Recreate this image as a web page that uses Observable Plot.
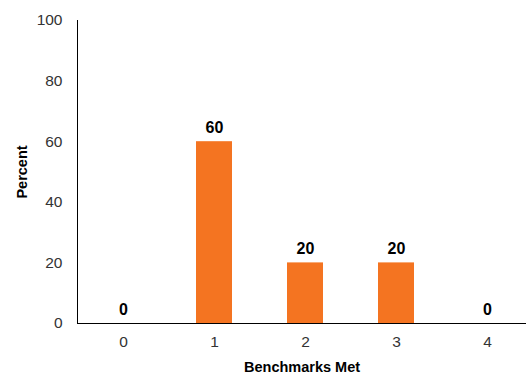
<!DOCTYPE html>
<html>
<head>
<meta charset="utf-8">
<script src="https://cdn.jsdelivr.net/npm/d3@7"></script>
<script src="https://cdn.jsdelivr.net/npm/@observablehq/plot@0.6"></script>
<style>
  body { margin: 0; background: #fff; }
  #chart svg { font-family: "Liberation Sans", Arial, sans-serif; }
  #chart g[aria-label="y-axis tick label"] text,
  #chart g[aria-label="x-axis tick label"] text { font-size: 15.5px; fill: #333; }
  #chart g[aria-label="y-axis label"] text,
  #chart g[aria-label="x-axis label"] text { font-size: 14.5px; font-weight: bold; fill: #000; }
</style>
</head>
<body>
<div id="chart"></div>
<script>
const categories = ["0", "1", "2", "3", "4"];
const percents = [0, 60, 20, 20, 0];
const yTicks = [0, 20, 40, 60, 80, 100];

const data = categories.map((c, i) => ({ cat: c, value: percents[i] }));

const chart = Plot.plot({
  width: 526,
  height: 373,
  marginLeft: 77,
  marginRight: 0,
  marginTop: 20,
  marginBottom: 50,
  style: { fontFamily: "Liberation Sans, Arial, sans-serif", background: "#fff" },
  x: {
    type: "band",
    domain: categories,
    range: [76.5, 533],
    paddingInner: 0.6,
    paddingOuter: 0.3,
    tickSize: 0,
    tickPadding: 12,
    label: "Benchmarks Met",
    labelAnchor: "center",
    labelOffset: 48,
    labelArrow: "none"
  },
  y: {
    domain: [0, 100],
    ticks: yTicks,
    tickSize: 0,
    tickPadding: 15,
    line: true,
    label: "Percent",
    labelAnchor: "center",
    labelOffset: 61,
    labelArrow: "none"
  },
  marks: [
    Plot.barY(data, { x: "cat", y: "value", fill: "#F47421" }),
    Plot.ruleY([0], { stroke: "#000", strokeWidth: 1 }),
    Plot.text(data, {
      x: "cat", y: "value", text: d => String(d.value),
      dy: -14, fontWeight: "bold", fontSize: 16, fill: "#000"
    })
  ]
});
document.getElementById("chart").appendChild(chart);
</script>
</body>
</html>
